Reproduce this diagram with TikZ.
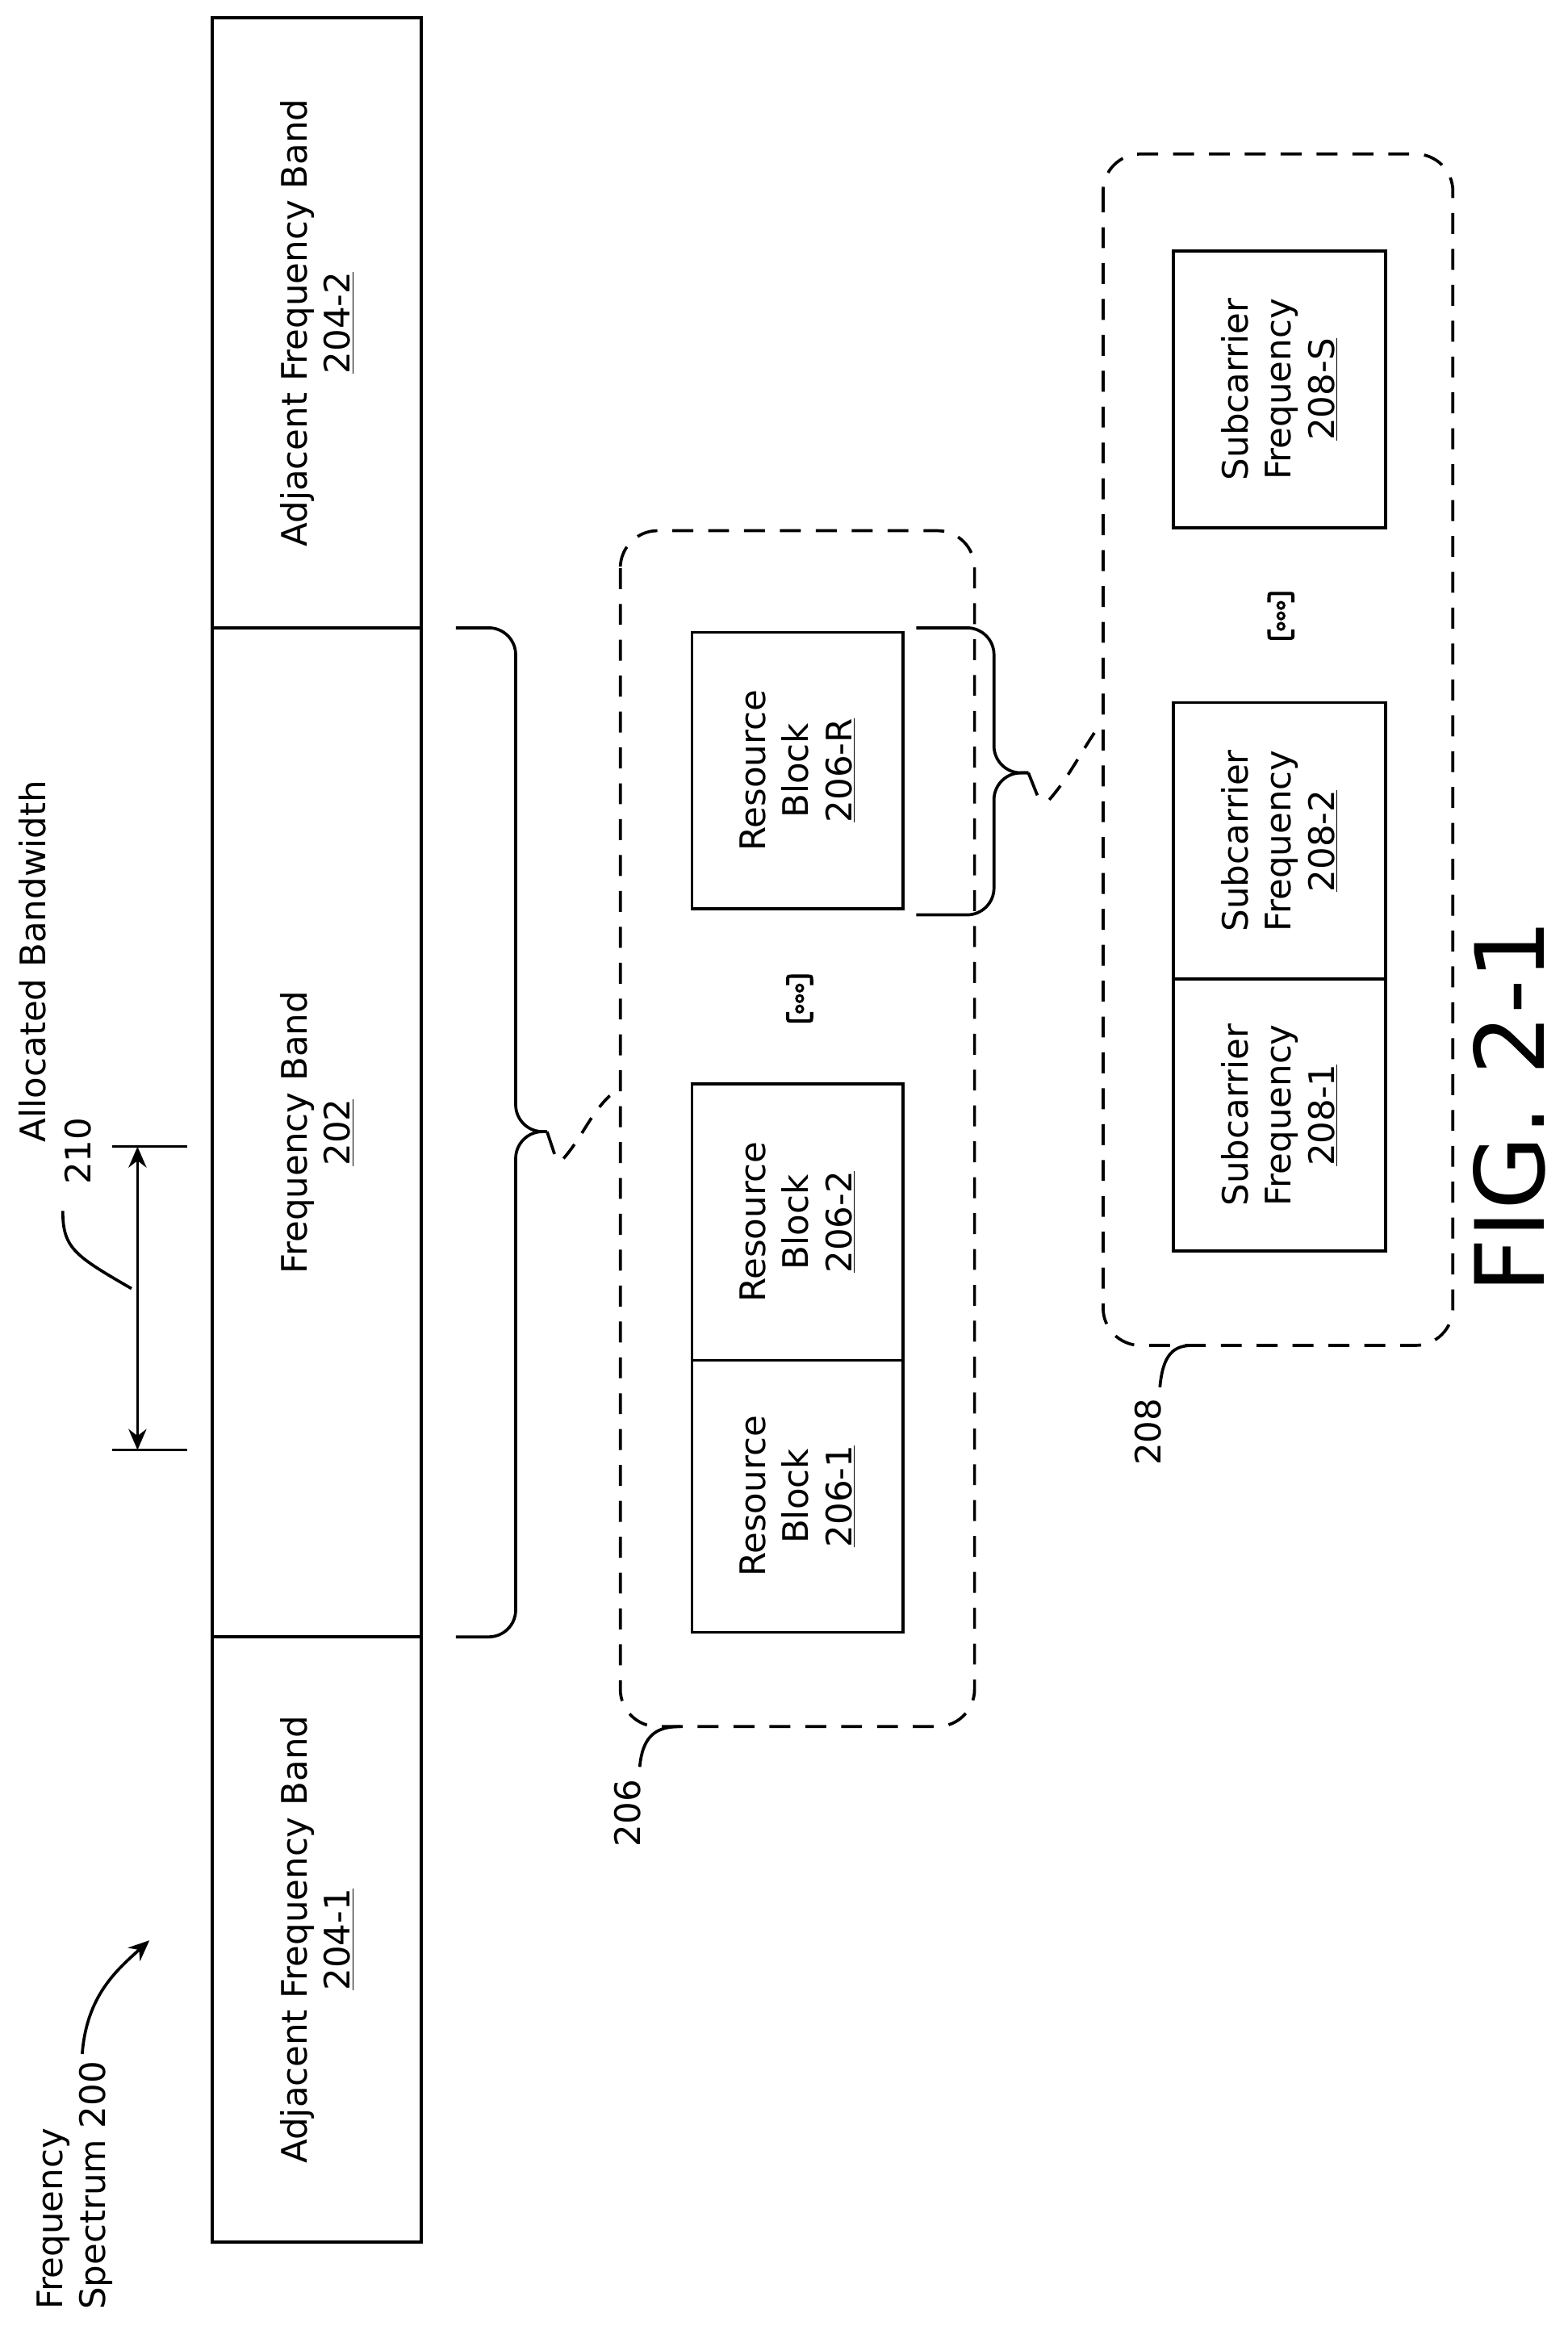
\documentclass[tikz,border=0pt]{standalone}
\usepackage{fontspec}
\setmainfont{DejaVu Sans}
\usetikzlibrary{arrows.meta}
\newcommand{\fs}{\fontsize{23.5}{29}\selectfont}
\begin{document}
\begin{tikzpicture}[x=1pt,y=-1pt,line width=2pt,
  box/.style={draw,line width=2pt,rotate=90,align=center,font=\fs,inner sep=0pt},
  txt/.style={rotate=90,align=center,font=\fs,inner sep=0pt},
  dbox/.style={draw,line width=2pt,rounded corners=25,dash pattern=on 14pt off 10pt},
  ell/.pic={
    \draw[line width=2.2pt] (-8,-9) -- (-8,-12) .. controls (-8,-15) .. (-5,-15) -- (5,-15) .. controls (8,-15) .. (8,-12) -- (8,-9);
    \draw[line width=2.2pt] (-8,9) -- (-8,12) .. controls (-8,15) .. (-5,15) -- (5,15) .. controls (8,15) .. (8,12) -- (8,9);
    \foreach \yy in {-7,0,7} \draw[line width=1.6pt] (0,\yy) circle (2.2pt);
  }]
\useasboundingbox (0,0) rectangle (1049,1556);
% main column
\node[box,minimum width=408,minimum height=140] (b2) at (212,216) {Adjacent Frequency Band\\\underline{204-2}};
\node[box,minimum width=675,minimum height=140] (f) at (212,757.5) {Frequency Band\\\underline{202}};
\node[box,minimum width=405,minimum height=140] (b1) at (212,1297.5) {Adjacent Frequency Band\\\underline{204-1}};
% spectrum label
\node[txt,align=left] (sp) at (50,1462) {Frequency\\Spectrum 200};
\coordinate (spa) at (100,1298);
\draw[-{Stealth[length=14pt,width=12pt]}] (55,1374) .. controls (58,1335) and (78,1318) .. (spa);
% allocated bandwidth
\coordinate (d1) at (92,767); \coordinate (d2) at (92,970);
\draw[{Stealth[length=14pt,width=12pt]}-{Stealth[length=14pt,width=12pt]}] (d1) -- (d2);
\draw (75,767) -- (125,767); \draw (75,970) -- (125,970);
\node[txt] (ab) at (22,643) {Allocated Bandwidth};
\node[txt] (l210) at (52,770) {210};
\coordinate (lk) at (88,862);
\draw (42,810) .. controls (42,835) and (50,840) .. (lk);
% brace 1
\draw[rounded corners=18] (305,420) -- (345,420) -- (345,757) -- (366,757);
\draw[rounded corners=18] (305,1095) -- (345,1095) -- (345,757) -- (366,757);
\draw (366,757) -- (371,772);
\draw[dash pattern=on 12pt off 9pt] (377,775) .. controls (390,760) and (395,745) .. (408,733);
% box 206
\draw[dbox] (415,355) rectangle (652,1155);
\node[box,minimum width=185,minimum height=141] (rR) at (533.5,515.5) {Resource\\Block\\\underline{206-R}};
\node[box,minimum width=185,minimum height=141] (r2) at (533.5,817.5) {Resource\\Block\\\underline{206-2}};
\node[box,minimum width=182,minimum height=141] (r1) at (533.5,1001) {Resource\\Block\\\underline{206-1}};
\pic at (535,668) {ell};
\node[txt] (l206) at (420,1213) {206};
\draw (428,1182) .. controls (430,1160) and (440,1155) .. (455,1155);
% brace 2
\draw[rounded corners=18] (613,420) -- (665,420) -- (665,517) -- (688,517);
\draw[rounded corners=18] (613,612) -- (665,612) -- (665,517) -- (688,517);
\draw (688,517) -- (694,532);
\draw[dash pattern=on 12pt off 9pt] (702,535) .. controls (715,520) and (722,505) .. (735,486);
% box 208
\draw[dbox] (738,103) rectangle (972,900);
\node[box,minimum width=185,minimum height=142] (sS) at (856,260.5) {Subcarrier\\Frequency\\\underline{208-S}};
\node[box,minimum width=185,minimum height=142] (s2) at (856,562.5) {Subcarrier\\Frequency\\\underline{208-2}};
\node[box,minimum width=182,minimum height=142] (s1) at (856,746) {Subcarrier\\Frequency\\\underline{208-1}};
\pic at (857,412) {ell};
\node[txt] (l208) at (768,958) {208};
\draw (776,928) .. controls (778,906) and (785,900) .. (798,900);
% figure label
\node[rotate=90,font=\fontsize{64}{64}\selectfont,inner sep=0pt] (fig) at (1010,740) {FIG. 2-1};
\end{tikzpicture}
\end{document}
